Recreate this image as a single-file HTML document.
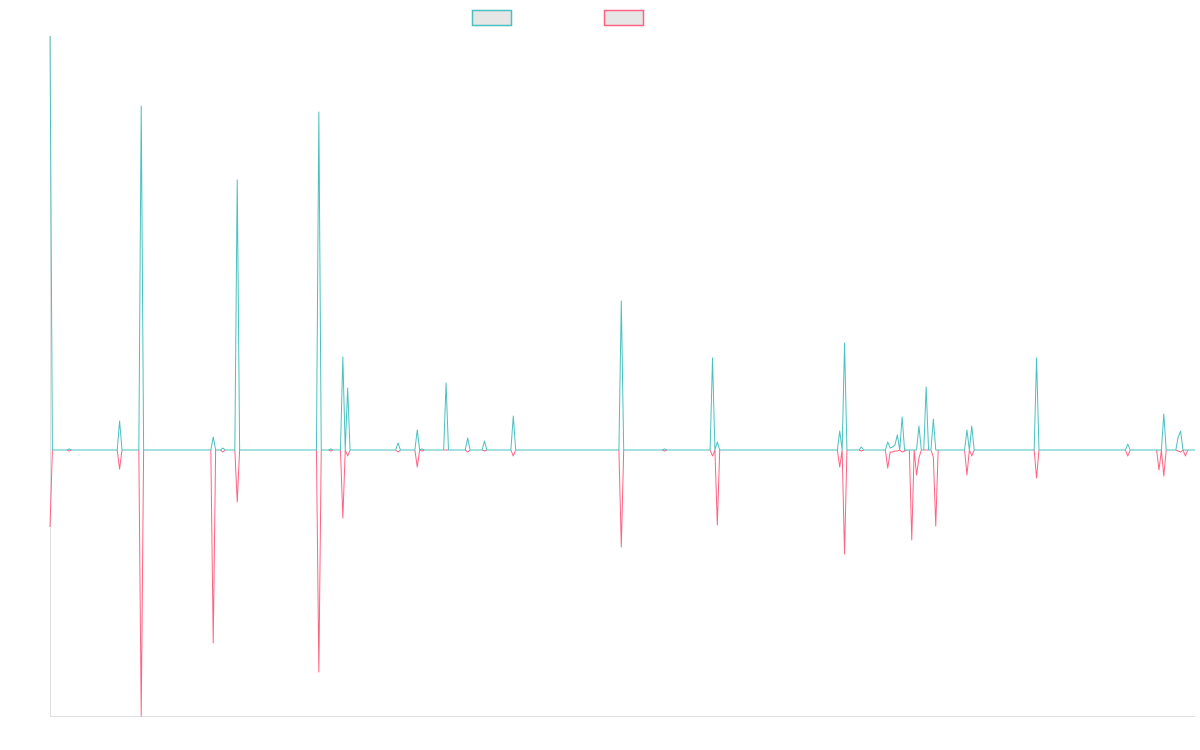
<!DOCTYPE html>
<html><head><meta charset="utf-8"><style>
html,body{margin:0;padding:0;background:#fff;}
svg{display:block;font-family:"Liberation Sans",sans-serif;}
</style></head><body>
<svg id="chart" width="1200" height="750">
  <g>
    <rect x="472.5" y="10.5" width="39" height="15" fill="#e6e6e6" stroke="#4bc0c0" stroke-width="1.5"/>
    <rect x="604.5" y="10.5" width="39" height="15" fill="#e6e6e6" stroke="#ff6384" stroke-width="1.5"/>
  </g>
  <line x1="50.5" y1="36" x2="50.5" y2="716" stroke="#e0e0e0"/>
  <line x1="50" y1="716.5" x2="1195" y2="716.5" stroke="#e0e0e0"/>
  <g id="series"></g>
</svg>
<script>
const pointCount = 478;
const spikeIndex = [0,8,29,38,68,72,78,112,117,122,124,145,153,155,165,174,181,193,238,256,276,278,329,331,338,349,350,351,352,353,355,356,359,361,362,365,368,369,382,384,411,449,462,464,470,471,473];
const greenValues = [414,1,29,344,13,2,270,338,1,93,62,7,20,1,67,12,9,34,149,1,92,8,19,107,3,8,2,3,5,15,33,0,0,0,24,63,31,0,20,24,92,6,0,36,13,19,0];
const redValues = [-77,-1,-19,-266,-193,-2,-52,-222,-1,-68,-6,-2,-17,-1,0,-2,-1,-6,-97,-1,-6,-75,-17,-104,-1,-18,-2,-2,-1,-1,-2,-1,-90,-25,-8,0,-7,-76,-25,-6,-28,-6,-20,-26,-1,-2,-6];
const yMin = -266, yMax = 414;

const plotLeft = 50, plotRight = 1195, plotTop = 36, plotBottom = 716;
const xScale = i => plotLeft + i * (plotRight - plotLeft) / (pointCount - 1);
const yScale = v => plotBottom - (v - yMin) * (plotBottom - plotTop) / (yMax - yMin);

function fullSeries(vals) {
  const arr = new Array(pointCount).fill(0);
  spikeIndex.forEach((idx, k) => { arr[idx] = vals[k]; });
  return arr;
}
const NS = "http://www.w3.org/2000/svg";
const seriesGroup = document.getElementById("series");
function drawLine(vals, color, name) {
  const data = fullSeries(vals);
  const d = data.map((v, i) => (i ? "L" : "M") + xScale(i).toFixed(2) + "," + yScale(v).toFixed(2)).join("");
  const p = document.createElementNS(NS, "path");
  p.setAttribute("d", d);
  p.setAttribute("fill", "none");
  p.setAttribute("stroke", color);
  p.setAttribute("stroke-width", "1");
  p.setAttribute("stroke-linejoin", "round");
  
  
  seriesGroup.appendChild(p);
}
drawLine(redValues, "#ff6384", "red-series-line");
drawLine(greenValues, "#4bc0c0", "green-series-line");
</script>
</body></html>
